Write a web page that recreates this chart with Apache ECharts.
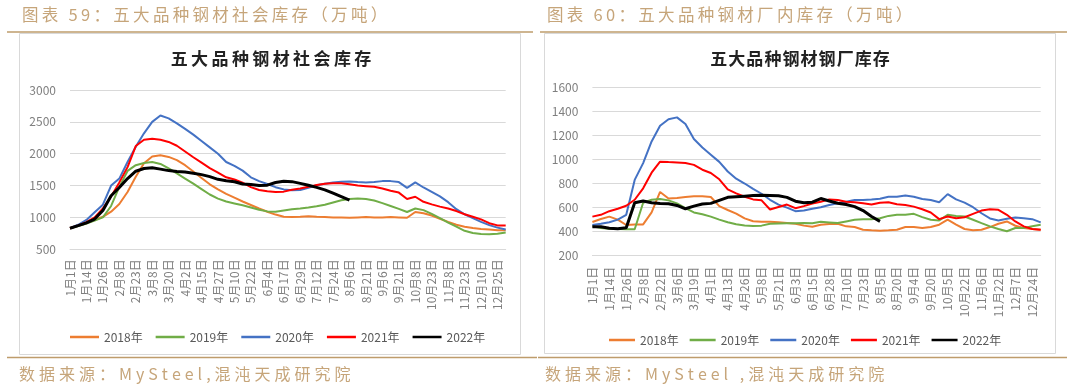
<!DOCTYPE html>
<html><head><meta charset="utf-8">
<script src="https://cdn.jsdelivr.net/npm/echarts@6/dist/echarts.min.js"></script>
<style>html,body{margin:0;padding:0;background:#fff}#c{width:1080px;height:389px}</style>
</head><body><div id="c"></div>
<script>
// ---------- data ----------
const catsL = ['1月1日','1月7日','1月14日','1月20日','1月26日','2月1日','2月8日','2月15日','2月23日','3月1日','3月8日','3月14日','3月20日','3月26日','4月2日','4月9日','4月15日','4月21日','4月27日','5月4日','5月10日','5月16日','5月22日','5月28日','6月4日','6月10日','6月17日','6月23日','6月29日','7月6日','7月12日','7月18日','7月24日','7月31日','8月6日','8月13日','8月21日','8月28日','9月6日','9月13日','9月21日','9月28日','10月8日','10月15日','10月23日','10月30日','11月8日','11月15日','11月23日','11月30日','12月10日','12月17日','12月25日','12月31日'];
const catsR = ['1月1日','1月7日','1月14日','1月20日','1月26日','2月1日','2月8日','2月15日','2月22日','2月28日','3月6日','3月12日','3月19日','3月25日','4月1日','4月7日','4月13日','4月20日','4月26日','5月2日','5月8日','5月14日','5月21日','5月27日','6月3日','6月9日','6月15日','6月21日','6月28日','7月4日','7月10日','7月16日','7月23日','7月29日','8月5日','8月12日','8月20日','8月27日','9月4日','9月11日','9月20日','9月27日','10月5日','10月14日','10月22日','10月29日','11月6日','11月14日','11月22日','11月29日','12月7日','12月16日','12月24日','12月31日'];
const years = ['2018年','2019年','2020年','2021年','2022年'];

// 社会库存 (left)
const L2018 = [830,870,910,960,1010,1090,1210,1400,1640,1850,1955,1975,1950,1900,1820,1720,1620,1520,1440,1370,1310,1250,1195,1140,1090,1045,1010,1005,1010,1020,1010,1005,1000,1000,995,1000,1005,1000,1000,1005,1000,995,1085,1065,1030,980,930,885,855,835,820,810,800,800];
const L2019 = [830,865,905,950,1000,1180,1480,1730,1820,1855,1870,1840,1770,1690,1610,1530,1445,1360,1295,1250,1220,1190,1155,1120,1095,1090,1110,1130,1140,1155,1175,1200,1235,1270,1290,1298,1290,1265,1225,1180,1135,1085,1140,1115,1055,990,920,855,790,755,740,738,745,765];
const L2020 = [830,885,960,1080,1200,1500,1610,1870,2110,2320,2500,2600,2555,2475,2390,2300,2200,2100,2000,1870,1810,1735,1630,1570,1525,1475,1440,1425,1430,1465,1505,1530,1550,1560,1565,1555,1550,1555,1570,1570,1555,1465,1550,1470,1400,1330,1240,1130,1050,990,930,880,840,810];
const L2021 = [830,875,925,1000,1140,1330,1550,1790,2120,2220,2235,2220,2185,2125,2035,1945,1860,1775,1705,1630,1595,1545,1475,1430,1410,1400,1405,1435,1455,1480,1510,1530,1535,1535,1520,1500,1490,1480,1455,1420,1390,1290,1325,1245,1205,1170,1140,1100,1050,1010,970,910,875,875];
const L2022 = [830,872,915,975,1110,1340,1470,1610,1725,1768,1780,1758,1735,1722,1712,1695,1672,1640,1598,1575,1560,1525,1518,1502,1507,1548,1568,1562,1535,1505,1472,1432,1380,1325,1270];

// 钢厂库存 (right)
const R2018 = [480,505,525,500,455,460,460,560,730,675,680,688,695,695,688,612,580,550,510,487,482,482,478,472,465,450,440,458,463,466,444,438,416,411,408,411,416,438,438,430,438,458,499,458,422,411,416,438,466,485,449,430,422,416];
const R2019 = [445,430,425,422,420,420,640,665,672,660,635,595,560,545,525,500,478,462,452,447,450,465,468,470,470,472,470,482,477,471,485,499,504,504,512,531,540,540,548,521,499,493,540,531,526,499,471,444,422,403,430,430,444,458];
const R2020 = [455,465,478,500,540,830,970,1150,1280,1335,1350,1295,1170,1100,1040,980,900,840,800,755,715,665,625,600,570,575,590,603,622,636,649,663,663,668,674,690,690,701,690,671,663,644,712,668,641,603,553,510,493,507,518,512,504,477];
const R2021 = [525,540,570,590,615,665,760,890,982,978,975,970,955,915,888,835,752,718,690,668,660,584,605,625,595,612,634,649,668,663,649,644,636,625,640,644,627,622,608,586,559,504,526,512,520,548,575,586,581,540,485,444,422,416];
const R2022 = [440,440,428,425,432,640,655,640,634,632,618,590,612,630,635,660,685,690,695,700,702,700,698,685,653,640,645,675,655,636,625,608,575,526,485];

const yTicksL = [500,1000,1500,2000,2500,3000];
const yTicksR = [200,400,600,800,1000,1200,1400,1600];

const headL = '图表 59：五大品种钢材社会库存（万吨）';
const headR = '图表 60：五大品种钢材厂内库存（万吨）';
const titleL = '五大品种钢材社会库存';
const titleR = '五大品种钢材钢厂库存';
const srcL = '数据来源：MySteel,混沌天成研究院';
const srcR = '数据来源：MySteel ,混沌天成研究院';

// ---------- chart ----------
const colors = ['#ED7D31','#70AD47','#4472C4','#FF0000','#000000'];
const widths = [2,2,2,2,3];
const TAN = '#C6A57A', TANLINE = '#BE9C6B', GRIDC = '#D9D9D9', AXC = '#7F7F7F';
const FF = "'Noto Sans CJK SC','Noto Sans',sans-serif";
const sp = (s, g) => Array.from(s).join(g);

const leftData = [L2018,L2019,L2020,L2021,L2022];
const rightData = [R2018,R2019,R2020,R2021,R2022];
const series = [];
[leftData, rightData].forEach((set, gi) => {
  set.forEach((d, k) => series.push({
    type:'line', name: years[k], xAxisIndex: gi, yAxisIndex: gi, data: d,
    symbol:'none', showSymbol:false, animation:false,
    lineStyle:{color: colors[k], width: widths[k]}, itemStyle:{color: colors[k]}
  }));
});

function xAx(gi, cats, margin){
  return {gridIndex: gi, type:'category', data: cats, boundaryGap:false,
    axisLine:{show:true, lineStyle:{color:GRIDC}}, axisTick:{show:false},
    axisLabel:{interval:1, rotate:90, fontSize:12, color:AXC, margin: margin, fontFamily:FF}};
}
function yAx(gi, ticks){
  return {gridIndex: gi, type:'value', min: ticks[0], max: ticks[ticks.length-1], interval: ticks[1]-ticks[0],
    axisLine:{show:false}, axisTick:{show:false},
    splitLine:{lineStyle:{color:GRIDC, width:1}},
    axisLabel:{fontSize:12, color:AXC, margin:14, fontFamily:FF, formatter: v => String(v)}};
}
function txt(x, y, text, font, fill, align){
  return {type:'text', x:x, y:y, silent:true, z:5,
    style:{text:text, font:font, fill:fill, align:align||'left', textAlign:align||'left', verticalAlign:'middle', textVerticalAlign:'middle'}};
}
function legendData(){
  return years.map((n,k) => ({name:n, icon:'rect', itemStyle:{color:colors[k]}}));
}

const option = {
  animation:false,
  backgroundColor:'#ffffff',
  grid:[
    {left:70, right:574.3, top:90, bottom:139.7, containLabel:false},
    {left:592.4, right:39.3, top:87.3, bottom:133.3, containLabel:false}
  ],
  xAxis:[xAx(0, catsL, 10), xAx(1, catsR, 11)],
  yAxis:[yAx(0, yTicksL), yAx(1, yTicksR)],
  legend:[
    {left:65, top:326, data: legendData(), itemWidth:29, itemHeight:2.5, itemGap:13, textStyle:{fontSize:12, color:'#595959', fontFamily:FF}},
    {left:604, top:329, data: legendData(), itemWidth:26, itemHeight:2.5, itemGap:11, textStyle:{fontSize:12, color:'#595959', fontFamily:FF}}
  ],
  graphic:[
    {type:'rect', z:-10, silent:true, shape:{x:19.5, y:33.5, width:501, height:321}, style:{fill:'#fff', stroke:'#D9D9D9', lineWidth:1}},
    {type:'rect', z:-10, silent:true, shape:{x:544.5, y:33.5, width:511, height:320}, style:{fill:'#fff', stroke:'#D9D9D9', lineWidth:1}},
    {type:'line', z:-5, silent:true, shape:{x1:7, y1:32, x2:533, y2:32}, style:{stroke:TANLINE, lineWidth:1.6}},
    {type:'line', z:-5, silent:true, shape:{x1:540, y1:32, x2:1067, y2:32}, style:{stroke:TANLINE, lineWidth:1.6}},
    {type:'line', z:-5, silent:true, shape:{x1:7, y1:357.5, x2:537, y2:357.5}, style:{stroke:TANLINE, lineWidth:1.6}},
    {type:'line', z:-5, silent:true, shape:{x1:538, y1:357.5, x2:1067, y2:357.5}, style:{stroke:TANLINE, lineWidth:1.6}},
    txt(22, 15, sp(headL,'\u2009'), "16.5px "+FF, TAN),
    txt(547, 15, sp(headR,'\u2009'), "16.5px "+FF, TAN),
    txt(271, 59, sp(titleL,'\u2009'), "bold 17px "+FF, '#222222', 'center'),
    txt(800, 59, sp(titleR,'\u200A'), "bold 17px "+FF, '#222222', 'center'),
    txt(19, 374, sp(srcL,'\u2005'), "16px "+FF, TAN),
    txt(545, 374, sp(srcR,'\u2005'), "16px "+FF, TAN)
  ],
  series: series
};
const chart = echarts.init(document.getElementById('c'), null, {renderer:'canvas'});
chart.setOption(option);
</script>
</body></html>
